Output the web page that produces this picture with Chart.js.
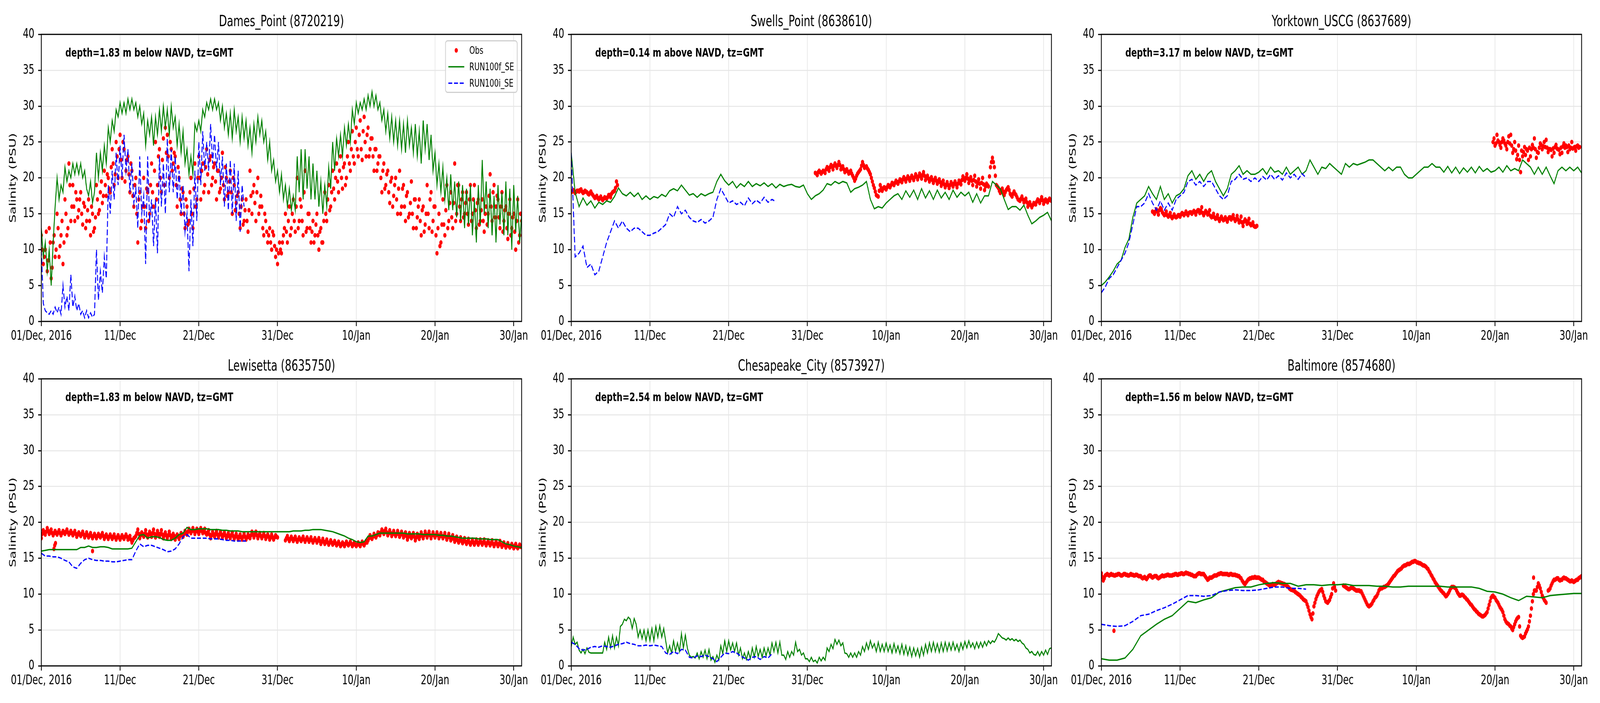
<!DOCTYPE html>
<html>
<head>
<meta charset="utf-8">
<script src="https://cdn.jsdelivr.net/npm/chart.js@4.4.1/dist/chart.umd.min.js"></script>
<style>
  html, body { margin: 0; background: #fff; overflow: hidden; }
  #wrap { position: relative; overflow: hidden; background: #fff; }
  #fig { position: absolute; left: 0; top: 0; width: 6000px; height: 1800px; background: #fff; overflow: hidden; transform-origin: 0 0; }
  #fig canvas { position: absolute; }
  .legend { position: absolute; background: rgba(255,255,255,0.85); border: 3px solid #d0d0d0; border-radius: 9px;
            font-family: "DejaVu Sans", sans-serif; font-size: 27px; color: #000; box-sizing: border-box; }
  .legend .row { position: absolute; left: 0; height: 40px; }
  .legend svg { position: absolute; left: 9px; top: 0; }
  .legend span { position: absolute; left: 88px; white-space: nowrap; line-height: 40px; }
</style>
</head>
<body>
<div id="wrap"><div id="fig"></div></div>
<script>
// x is days since 01/Dec/2016 00:00 GMT
const TICK_DAYS = [0, 10, 20, 30, 40, 50, 60];
const TICK_LABELS = ['01/Dec, 2016', '11/Dec', '21/Dec', '31/Dec', '10/Jan', '20/Jan', '30/Jan'];
const STATIONS = ['Dames_Point (8720219)', 'Swells_Point (8638610)', 'Yorktown_USCG (8637689)',
                  'Lewisetta (8635750)', 'Chesapeake_City (8573927)', 'Baltimore (8574680)'];
const DEPTHS = ['depth=1.83 m below NAVD, tz=GMT', 'depth=0.14 m above NAVD, tz=GMT', 'depth=3.17 m below NAVD, tz=GMT',
                'depth=1.83 m below NAVD, tz=GMT', 'depth=2.54 m below NAVD, tz=GMT', 'depth=1.56 m below NAVD, tz=GMT'];
const LEGEND_LABELS = ['Obs', 'RUN100f_SE', 'RUN100i_SE'];

// sampling steps (days) of the series
const Q = 0.25, H = 0.5, D = 1;

// ---- Dames_Point ----
const DAMES_OBS = [
  12,8,10,7, 13,6,11,9, 15,9,12,8, 17,12,22,14, 19,14,17,15.5, 18,13.5,16,14, 17,12,15,13, 19,15,18,16.5,
  21,17.5,20,18, 24,19,25,20, 26,20,24,21, 23,18,21,16, 20,11,18,14, 20,13,18,15, 22,16,25,19, 24,18,25.5,27,
  26,20,24,22, 23,16,20,15, 18,13,16,14, 20,13,22,17, 23,17,22,19, 24,18,23,20, 22,17,21,18.5, 23.5,17,20,18,
  21,15,19,16.5, 18,13,17,14, 17,12.5,21,15, 19,14,20,16, 16,12,14,11, 13,10,12,9, 8,11,9.5,12, 15,11,16,13,
  17,12.5,20,14, 16,12,21,13, 15,11,14,12, 15,10,13,11, 18,14,19,16, 21,17,22,18, 23,18.5,22,20, 25,21,26.5,22,
  27,23,28,22.5, 28.5,23,27,24, 25.5,21,24,22, 23,18,22,19, 21,16.5,20,17.5, 20,15,21,16, 19,14,18,15, 19.5,13,17,14.5,
  17,12,16,13.5, 19,13,18,14, 16,9.5,15,11, 17,12,19,14, 18,13,22,15, 19,14,18,15, 18,13.5,19,15, 19,13,17,14,
  17,12.5,16,15, 20.5,14,19,16, 17,13,18,14, 16,11.5,17,13, 15,10,17,12, 14];
const DAMES_OBS_MID = [
  10,9,12.5,8.5, 11,7.5,12,10, 13,10.5,14,11, 15,13,19,16, 16,18,14.5,17, 15,16.5,13,15.5, 14,16,12.5,14.5,
  17,15.5,19.5,17.5, 19,20.5,18.5,21.5, 22,20.5,23,24, 22.5,25,19.5,22.5, 20.5,22,17.5,19, 15,17,13,16,
  16,18.5,14,19, 18,21,17,23, 20,22.5,19,23.5, 23,25,21,23.5, 19,21.5,17,18.5, 15,17,13.5,18, 15,18.5,16,20,
  20,21,18,21.5, 20.5,22.5,19,21.5, 19.5,21,18,20, 19,21.5,17.5,19.5, 18,20,15.5,17.5, 15,16,13.5,15.5,
  14,15.5,17.5,18, 16.5,18,15,17.5, 13,15,12.5,12, 11,12.5,10.5,10, 9.5,10,11,13, 12.5,14,12,15, 14,16,13,17,
  14,18,12.5,15, 13,12.5,11,13.5, 12,12.5,11,14, 15,17,15.5,18, 18.5,20,19.5,21, 20,21.5,19,23, 22,24,23,25,
  24,26,24,26.5, 25,26,23,25.5, 23,24,21,23, 20,21,18.5,20.5, 18,19.5,16,19, 17,18.5,15,18.5, 16,17.5,14.5,16.5,
  15,17,13,16, 14,15.5,12.5,15, 15,17,12.5,16, 12,13,10.5,13.5, 13.5,15.5,13,16.5, 14.5,16.5,14,19, 16,17,14.5,16.5,
  15,17,14,17, 15.5,16.5,13.5,15.5, 14,15,13.5,17.5, 16,18,14.5,17.5, 14.5,16,12.5,15.5, 13,15,12,14.5, 12.5,14,11,15];
const DAMES_F = [
  13,9,11,7, 10,5,11,16, 20,17,19,18, 21.5,19.5,21,20, 22,20.5,22,20.5, 22,20,21,18.5, 17.5,19.5,16.5,18,
  23.5,20,23.5,21, 24.5,22,27,25, 28,26.5,29.5,28.5, 30.5,29,30.5,29, 31,29.5,31,29.5, 30.5,28.5,30,27.5,
  29,24.5,28,26, 28.5,24.5,28.5,26, 29.5,26.5,30,27, 29.5,26,30,27, 28.5,24.5,27.5,23.5, 26.5,22,24,20.5,
  23,20.5,27.5,26.5, 28,26.5,29.5,28.5, 30.5,29.5,31,29.5, 31,29.5,30.5,28, 30,27,29,26, 29,25.5,29.5,26.5,
  28.5,25,28.5,25.5, 28,24.5,27,23.5, 27.5,25,28.5,26, 28,25,26.5,22.5, 25,21,22.5,19.5, 21,18,20.5,17,
  19,16,18.5,15.5, 17.5,15.5,23,18, 24,17,24,18.5, 23,17,22,17, 21,16,19.5,15, 19,16,21.5,18.5, 25,21,25.5,23,
  26,23,27,24.5, 27.5,25,29.5,27.5, 30.5,29,30.5,29.5, 31,29.5,31.5,30, 32,30,31.5,29.5, 30.5,28,29.5,26.5,
  29,25.5,28.5,25, 28,24.5,28,24, 27.5,23.5,28,24.5, 27,23.5,27.5,23, 26.5,22,28,24, 27.5,22.5,26,21,
  23.5,19,22,18, 21.5,17,20,15.5, 20.5,15.5,19.5,14.5, 19.5,14,19,13, 18.5,13.5,19,12, 17,11,19,13.5,
  22.5,15,19.5,13, 18.5,12,17.5,11, 19,13.5,18,12, 19.5,12,18.5,10, 19,12.5,17.5,11, 15];
const DAMES_I = [
  10,2.5,1.5,1.2, 1,1.5,1,2, 1.2,2,1,5, 2,3.5,1.5,6.5, 2,3.5,1.5,2.5, 1,1.5,0.5,1.5, 0.5,1.2,0.6,1,
  10,3,7,4, 9,6,19,15, 21,17,23.5,19, 24.5,20,26,21, 24,18,22,16.5, 18.5,13,23,15, 17.5,8,23,14,
  17,10.5,17,9.5, 23,16,22,15, 25.5,18,24,18, 23,17,21,15, 19,12.5,15,7, 17,10.5,21,14, 25,19,26.5,21,
  25,21,27.5,22, 26,21,25,19, 23,16,22,15.5, 22.5,15,22,14, 21,12.5,19,16];

// ---- Swells_Point ----
const SWELLS_OBS_A = [18,18.3,17.9,18.2, 18.1,18.4,17.9,18.2, 18,17.7,18.1,17.6, 17.2,17.5,17,17.4,
  16.9,17.3,17.1,17.6, 17.3,18,18.2,19.5];
const SWELLS_OBS_A_MID = [18.1,18.1,18.05,18.2, 18.3,18.1,18,18.1, 17.8,17.9,17.8,17.4, 17.3,17.2,17.2,17.1,
  17.1,17.2,17.3,17.6, 17.8,18.1,18.6,19];
const SWELLS_OBS_B = [
  20.7,20.4,21,20.6, 21,20.7,21.5,21, 21.8,21.2,22,21.4, 22.2,21.2,21.6,20.8, 21.2,20.6,21,20.3,
  19.6,20.3,20.8,21.2, 22.2,21.4,21.6,21.1, 20.5,19.5,18.6,17.6, 17.4,19,18.2,18.7, 18.4,19,18.7,19.3,
  19,19.6,19.2,19.8, 19.4,20.1,19.5,20.2, 19.6,20.3,19.7,20.5, 19.8,20.6,19.9,20.8, 19.7,20.3,19.5,20.1,
  19.3,20,19.2,19.8, 18.9,19.6,18.7,19.4, 18.6,19.4,18.8,19.5, 18.7,19.6,19.1,20.2, 19.6,20.5,19.3,20.1,
  19,20.3,18.8,19.8, 18.5,20,18.3,19.2, 18.8,21.5,22.8,21.5, 19,18.6,17.9,18.5, 17.6,18.3,18.7,17.8,
  17.4,18.1,17.6,17, 16.8,17.4,16.6,17.1, 16,16.6,15.9,16.5, 16.3,17,16.5,17.3, 16.4,17,16.6,17.1, 16.8];
const SWELLS_OBS_B_MID = [
  20.6,20.8,20.8,20.8, 20.9,21.2,21.3,21.5, 21.6,21.7,21.7,21.8, 21.8,21.4,21.2,21, 20.9,20.8,20.6,20,
  19.9,20.6,21,21.7, 21.8,21.5,21.3,20.8, 20,19,18.1,17.5, 18.2,18.6,18.5,18.6, 18.7,18.9,19,19.2,
  19.3,19.4,19.5,19.6, 19.8,19.8,19.9,19.9, 20,20,20.1,20.2, 20.2,20.3,20.4,20.3, 20,19.9,19.8,19.7,
  19.7,19.6,19.5,19.4, 19.3,19.1,19,19, 19,19.1,19.2,19.1, 19.2,19.4,19.7,19.9, 20,19.9,19.7,19.6,
  19.7,19.5,19.3,19.2, 19.3,19.1,18.8,19, 20.2,22.2,22.2,20.3, 18.8,18.2,18.2,18.1, 18,18.5,18.3,17.6,
  17.8,17.8,17.3,16.9, 17.1,17,16.9,16.6, 16.3,16.2,16.2,16.4, 16.7,16.8,16.9,16.9, 16.7,16.8,16.9,16.9];
const SWELLS_F = [
  23.5,18, 16,17.2, 16.2,16.8, 15.8,16.6, 16.3,16.8, 16.6,17.4, 18.6,17.8, 17.5,18, 17.4,17.9, 17,17.5,
  17,17.4, 17.2,17.7, 17.4,18.2, 18.5,18.2, 19,18.3, 17.6,17.8, 17.3,17.8, 17.5,17.8, 18,19.5, 20.5,19.6,
  19,19.5, 18.6,19.2, 18.8,19.5, 18.8,19.2, 18.9,19.3, 18.8,19.2, 18.6,19.1, 18.8,19, 19.1,18.8, 18.7,19,
  17.8,17, 17.5,17.8, 18.3,19.2, 19,19.5, 19.2,19.5, 19.3,18, 18.5,18.7, 19,19.5, 17,15.7, 16,15.8,
  16.5,17, 17.5,17.8, 17,18.2, 17.3,18.3, 17,18.5, 17.2,18.2, 17,18.3, 17.2,18, 17,18.3, 17.3,18,
  17.5,18, 16.6,17.8, 16.5,17.5, 17.5,19.5, 19,18.5, 17,15.6, 16,16, 15.5,16.2, 14.8,13.6, 14,14.5,
  14.8,15.2, 14];
const SWELLS_I = [
  23.5,9, 9.5,10.5, 7.5,8, 6.5,7, 9,11, 12.5,14, 13,14, 13,12.5, 13,13, 12.5,12, 12,12.3, 12.5,13,
  13.5,15, 14.5,16, 15,15.5, 14.5,14, 13.8,14.2, 13.7,14, 14.5,17, 18.5,17.5, 16.5,16.8, 16.3,16.6,
  16.1,17.2, 16.4,16.9, 16.5,17.3, 16.6,17, 16.7];

// ---- Yorktown_USCG ----
const YORK_OBS_A = [15.3,15, 15.6,14.9,15.8,15.2, 14.8,15.3,14.6,15.1, 14.4,14.9,14.5,14.8, 14.6,15.1,14.8,15.3,
  14.8,15.2,15,15.4, 14.9,15.5,15.1,15.9, 14.8,15.4,14.9,15.5, 14.5,15,14.3,14.8, 14,14.6,14.1,14.5,
  13.9,14.5,14.2,14.8, 14,14.7,13.8,14.6, 13.3,14.2,13.6,14.3, 13.4,13.8,13.2,13.3];
const YORK_OBS_A_MID = [15.2, 15.3,15.3,15.5,15.6, 15,14.9,14.8,14.8, 14.6,14.6,14.6,14.6, 14.8,14.9,15,15,
  15,15.1,15.2,15.2, 15.2,15.3,15.5,15.4, 15.1,15.1,15.2,15.1, 14.7,14.6,14.5,14.4, 14.3,14.3,14.3,14.2,
  14.2,14.3,14.5,14.5, 14.3,14.2,14.2,14, 13.8,13.9,14,13.9, 13.6,13.5,13.3,13.2];
const YORK_OBS_B = [25, 24.5,26,25,24.2, 25.5,24.8,24,25.8, 26,23.5,25,22.6, 24.5,20.8,23,24.3, 24,22.5,23,24.6,
  25.5,22.8,23.5,24.8, 24,25,25.3,23.6, 24,23,23.5,24.6, 24,23.3,23.5,24.8, 24.5,23.6,24,25, 24.2,23.8,24.5,24.3];
const YORK_OBS_B_MID = [25.5,24.8,25.2,24.6, 25,25.2,24.5,25, 24.8,24.5,24,23.8, 23.2,22.5,23.8,23.6,
  23.2,23.8,24.2,24, 24.2,24,23.6,24.2, 24.6,24.4,24.3,24.2, 24,23.9,24.1,24.3, 24.1,23.9,24.2,24.4,
  24.2,24.3,24.5,24.2, 24.1,24.3,24.4,24.2];
const YORK_F = [
  5,5.5, 6.2,7, 8,8.5, 10.3,11.5, 14.5,16.5, 17,17.5, 18.8,17.8, 17,18.8, 17,17.8, 16.5,17.5, 17.8,18.5,
  20.3,21, 19.8,20.5, 19.5,20.5, 21,19.5, 18.5,17.5, 18.5,20.5, 21,21.7, 20.5,21, 20.5,20.5, 20.8,21.3,
  20.5,21.5, 20.8,21, 20.5,21.5, 20.5,21, 21.5,20.5, 21,22.5, 21.5,20.5, 21.5,21.3, 22,21.5, 21,20.5,
  22,21.5, 22,21.8, 22,22.2, 22.5,22.5, 22,21.5, 21,21.5, 21,21.5, 21.5,20.5, 20,20, 20.5,21, 21.5,21.5,
  22,21.5, 21.5,20.8, 21.6,20.7, 21.5,20.6, 21.4,20.8, 21.5,20.7, 21.6,20.9, 21.3,20.8, 21,21.5, 20.8,21.7,
  21,21.3, 21,22.5, 22,21.5, 20.5,21.5, 20.5,21.5, 20.3,19.2, 21,21.5, 21,21.5, 21,21.5, 20.7];
const YORK_I = [
  4,4.8, 6,6.5, 7.5,8.5, 9.5,11, 13.5,16, 16,16.5, 17.8,16.5, 15.5,16.8, 15.5,16.5, 15.5,17, 17.5,18,
  19.5,19.8, 19,19.5, 18.8,19.5, 19.5,18.5, 17.5,17, 17.5,19.5, 19.8,20.5, 19.8,20, 19.5,20, 19.5,20.2,
  19.7,20.5, 19.8,20.3, 19.7,20.7, 20,20.5, 19.8,20.6, 20];

// ---- Lewisetta ----
const LEW_OBS_A = [
  17.8,18.9,18.3,19.2, 18.4,19,18.2,18.8, 18.3,18.9,18.2,18.8, 18.4,19,18.3,18.8, 18.2,18.8,18,18.6,
  18.1,18.7,17.9,18.6, 17.9,18.5,17.8,18.4, 17.8,18.4,17.9,18.5, 17.7,18.3,17.7,18.3, 17.7,18.3,17.6,18.2,
  17.6,18.2,17.7,18.3, 17.6,18.1,17.2,17.8, 18.1,19,17.8,18.6, 18,18.9,17.9,18.7, 18,19,17.9,18.8,
  18,18.9,17.8,18.6, 17.8,18.7,17.7,18.4, 17.6,18.3,17.7,18.5, 18,18.8,18.3,19.1, 18.5,19.2,18.4,19.1,
  18.4,19.2,18.5,19.1, 18.3,18.9,17.8,18.7, 18,18.8,17.9,18.7, 17.9,18.6,17.8,18.5, 17.8,18.6,17.7,18.4,
  17.6,18.3,17.6,18.4, 17.6,18.3,17.8,18.7, 17.9,18.7,17.8,18.5, 17.8,18.5,17.7,18.3, 17.6,18.3,17.6,18.2, 17.9];
const LEW_OBS_A_MID = [
  18.4,18.6,18.7,18.8, 18.7,18.5,18.5,18.5, 18.6,18.5,18.5,18.6, 18.7,18.6,18.5,18.5, 18.5,18.4,18.3,18.3,
  18.4,18.3,18.2,18.2, 18.2,18.1,18.1,18.1, 18.1,18.1,18.2,18.1, 18,18,18,18, 18,17.9,17.9,17.9,
  17.9,17.9,18,18, 17.8,17.6,17.5,17.9, 18.5,18.4,18.2,18.3, 18.4,18.3,18.3,18.4, 18.5,18.4,18.3,18.4,
  18.4,18.3,18.2,18.2, 18.2,18.2,18,18.1, 18,18,18.1,18.2, 18.4,18.5,18.7,18.8, 18.8,18.8,18.8,18.7,
  18.8,18.8,18.8,18.5, 18.6,18.3,18.2,18.3, 18.4,18.3,18.3,18.3, 18.2,18.2,18.1,18.1, 18.2,18.1,18,18,
  18,17.9,18,18, 17.9,18,18.2,18.3, 18.3,18.2,18.2,18.1, 18.1,18.1,18,18, 17.9,17.9,17.9,18];
const LEW_OBS_B = [
  17.5,18.1,17.4,18, 17.4,18,17.3,17.9, 17.4,18,17.3,17.9, 17.3,17.9,17.2,17.8, 17.2,17.8,17,17.7,
  17,17.6,16.9,17.5, 16.9,17.4,16.8,17.3, 16.7,17.2,16.7,17.3, 16.8,17.3,16.7,17.2, 16.7,17.2,16.7,17.3,
  16.8,17.4,17.5,18.2, 17.7,18.4,17.9,18.6, 18.2,19,18.4,19.1, 18.2,18.9,18.1,18.8, 18.1,18.8,18,18.7,
  17.9,18.6,17.6,18.5, 17.8,18.5,17.5,18.4, 17.7,18.6,17.8,18.7, 17.9,18.7,17.8,18.6, 17.9,18.6,17.8,18.5,
  17.8,18.5,17.6,18.4, 17.5,18.2,17.3,18, 17.2,17.9,17.1,17.8, 17,17.7,16.9,17.6, 16.9,17.6,16.9,17.6,
  16.9,17.6,16.8,17.5, 16.8,17.5,16.7,17.4, 16.7,17.4,16.6,17.2, 16.5,17.1,16.5,17, 16.4,17,16.4,16.9, 16.6];
const LEW_OBS_B_MID = [
  17.8,17.7,17.7,17.7, 17.7,17.6,17.6,17.6, 17.7,17.6,17.6,17.6, 17.6,17.5,17.5,17.5, 17.5,17.4,17.3,17.3,
  17.3,17.2,17.2,17.2, 17.1,17.1,17,17, 16.9,17,17,17, 17,17,16.9,16.9, 16.9,16.9,17,17,
  17.1,17.2,17.8,17.9, 18,18.1,18.2,18.5, 18.6,18.7,18.8,18.6, 18.5,18.5,18.4,18.4, 18.4,18.4,18.3,18.3,
  18.2,18.1,18,18.1, 18.1,18,17.9,18.1, 18.1,18.2,18.2,18.3, 18.3,18.2,18.2,18.2, 18.2,18.2,18.1,18.1,
  18.1,18,18,17.9, 17.8,17.7,17.6,17.5, 17.5,17.4,17.4,17.3, 17.3,17.2,17.2,17.2, 17.2,17.2,17.2,17.2,
  17.2,17.1,17.1,17.1, 17.1,17,17,17, 17,16.9,16.9,16.8, 16.8,16.7,16.7,16.7, 16.7,16.6,16.6,16.6];
const LEW_OBS_OUT_DAYS = [1.6, 1.7, 1.8, 6.5];
const LEW_OBS_OUT = [16.3, 16.8, 17.1, 16.0];
const LEW_F = [
  16,16.1, 16.2,16.2, 16.2,16.2, 16.2,16.2, 16.2,16.2, 16.5,16.5, 16.7,16.5, 16.5,16.6, 16.6,16.5, 16.3,16.3,
  16.3,16.3, 16.3,16.4, 17.3,18.2, 18.3,17.8, 18,18, 17.9,17.6, 17.5,17.5, 17.8,18.3, 18.5,19.3, 19,19,
  19.1,19.1, 19.1,19, 19,19, 18.9,18.9, 18.8,18.8, 18.8,18.7, 18.7,18.7, 18.7,18.7, 18.7,18.7, 18.7,18.7,
  18.7,18.7, 18.7,18.7, 18.8,18.8, 18.8,18.9, 18.9,19, 19,19, 18.9,18.8, 18.7,18.5, 18.3,18.1, 17.8,17.6,
  17.3,17.2, 17.3,18.1, 18.1,18.3, 18.5,18.5, 18.5,18.5, 18.5,18.5, 18.5,18.4, 18.4,18.4, 18.4,18.3, 18.3,18.3,
  18.3,18.2, 18.2,18.1, 18.1,18, 17.9,17.8, 17.8,17.8, 17.8,17.7, 17.7,17.7, 17.6,17.6, 17.6,17.3, 17,16.9,
  16.7,16.6, 16.5];
const LEW_I = [
  15.7,15.3, 15.3,15.2, 15.2,15, 14.7,14.5, 13.8,13.6, 14.3,14.8, 15,14.8, 14.7,14.7, 14.6,14.6, 14.5,14.5,
  14.6,14.7, 14.8,14.8, 16,17, 16.6,16.8, 16.8,16.6, 16.4,16.2, 15.9,16, 16.3,17, 18,18.3, 17.8,17.8,
  17.8,17.8, 17.8,17.7, 17.7,17.7, 17.6,17.5, 17.5,17.4, 17.4,17.4, 17.4];

// ---- Chesapeake_City ----
const CHES_F = [
  2.7,4,3,3.3, 2.2,1.8,2.3,1.7, 2.5,1.9,1.8,1.8, 1.8,1.8,1.8,1.8, 1.8,3.3,2.3,4, 2.5,4.2,2.5,4, 2.8,5.5,5.8,6.5,
  6.3,6.8,6.5,5.2, 6.6,5.8,4,5, 3.8,5,3.5,5, 3.5,5.2,3.5,5.5, 4,5.6,4,5.2, 3.5,1.8,2.8,1.8, 3.5,2,3.2,2,
  4.5,2.5,4.3,2.5, 1.5,1.2,1.3,1.1, 1.8,1,2,1.2, 2.2,1,2.3,0.8, 1.3,0.5,1.5,0.8, 2.8,1.7,3.5,2, 3.5,2.2,3.2,2,
  3.2,1.5,2.5,1, 1.8,0.9,2,1, 2.5,1.2,2.7,1.3, 2.3,1.2,2.5,1.4, 2.5,1.5,3.2,2, 3.3,1.8,3.3,1.5, 1.5,0.9,2,1.2,
  2,1.5,3.3,2, 2.3,1.5,1.8,1, 1,0.6,1.2,0.6, 0.8,0.4,1.2,0.7, 1.2,0.8,2.5,2, 3,2.4,3.7,3, 3.6,2.8,3.2,1.8,
  1.7,1.2,1.8,1.2, 1.8,1.2,2,1.5, 2.7,2,3.2,2.3, 3.5,2.5,3.1,2, 3.3,2,3,2, 3.2,2,2.9,1.8, 3.1,1.9,2.8,1.7,
  3,1.6,2.8,1.5, 2.6,1.3,2.5,1.4, 2.4,1.2,2.6,1.5, 3,1.8,3.2,2, 3.3,2,3.1,1.9, 3.2,2,3.3,2.1, 3.2,2.2,3.3,2.2,
  3,2,3.2,2.3, 3.4,2.5,3.5,2.6, 3.2,2.4,3.3,2.5, 3.3,2.6,3.4,2.8, 3.5,3.1,3.5,3.3, 3.8,4.5,4.2,3.9, 3.8,3.6,3.9,3.6,
  3.8,3.5,3.7,3.4, 3.6,3.2,3,2.5, 2.3,1.8,2,1.6, 1.5,2,1.4,2, 1.5,2.2,1.6,2.4, 2.5];
const CHES_I = [
  3.3,3, 2.4,2.2, 2.3,2.6, 2.7,2.6, 2.8,2.7, 2.6,2.8, 3,3.1, 3.3,3.1, 3,2.8, 2.8,2.9, 2.8,2.9, 2.8,2.7,
  1.8,1.6, 2,1.7, 2.3,2.2, 1.2,1.1, 1.4,1.3, 1.5,1.3, 1,0.6, 1.2,1.8, 1.7,2, 1.8,1.4, 1.1,0.8, 1.2,1.3,
  0.9,1.3, 1.1,1.7];

// ---- Baltimore ----
const BALT_OBS = [
  12.9,11.9,12.6,12.8, 12.6,12.8,12.7,12.6, 12.7,12.8,12.6,12.7, 12.8,12.7,12.6,12.8, 12.7,12.6,12.7,12.5,
  12.5,12.2,12.4,12.1, 12.5,12.6,12.3,12.5, 12.5,12.2,12.4,12.6, 12.5,12.6,12.7,12.6, 12.6,12.7,12.8,12.7,
  12.8,12.9,12.8,13, 12.9,12.8,12.7,12.5, 12.5,12.8,12.9,12.8, 12.8,12.4,12,12.3, 12.3,12.5,12.6,12.7,
  12.8,12.9,12.8,12.8, 12.8,12.7,12.8,12.7, 12.7,12.6,12.5,12.2, 11.7,11.4,11.8,12.1, 12.2,12.3,12.4,12.3,
  12.3,12.1,12,11.7, 11.5,11.3,11.2,11.4, 11.3,11.5,11.7,11.6, 11.5,11.4,11.2,11, 10.7,10.6,10.5,10.2,
  10,9.8,9.5,9.2, 9,8.2,7.2,6.5, 8.3,9.3,10,10.5, 10.7,9.8,9,8.8, 9.2,10,11.5,10.5, null,null,null,11.2,
  11,10.8,10.7,10.9, 10.8,10.6,10.5,10.5, 10.4,9.8,9.2,8.6, 8.3,8.5,9,9.5, 9.8,10.5,10.8,10.9, 11,11.2,11.5,11.9,
  12.3,12.6,13,13.3, 13.5,13.8,14,14.1, 14.2,14.3,14.5,14.6, 14.5,14.4,14.3,14.1, 14,13.8,13.5,13, 12.5,12,11.5,11.1,
  10.7,10.4,10.1,9.7, 10,10.5,11,11, 10.8,10.2,9.8,9.9, 9.8,9.5,9.2,8.8, 8.5,8.1,7.8,7.5, 7.2,7,6.9,7.1,
  7.5,8.5,9.5,9.8, 9.5,9,8.5,8, 7.5,6.5,6,5.8, 5.5,5,5.8,6.5, 6.8,4.2,3.9,4.1, 4.8,5.5,7,9, 10.5,10.5,11.5,10.8,
  9.8,9.2,8.8,10.5, 10.8,11.5,12,12.1, 12.2,11.9,12,12.3, 12.2,12,11.8,11.9, 11.7,11.9,12,12.3, 12.5];
const BALT_OBS_MID = [
  12.4,12.2,12.7,12.7, 12.7,12.7,12.6,12.7, 12.8,12.7,12.6,12.8, 12.7,12.6,12.7,12.7, 12.6,12.7,12.6,12.5,
  12.3,12.3,12.2,12.3, 12.6,12.4,12.4,12.5, 12.3,12.3,12.5,12.5, 12.6,12.7,12.6,12.6, 12.7,12.8,12.7,12.8,
  12.9,12.8,12.9,12.9, 12.8,12.7,12.6,12.5, 12.7,12.9,12.8,12.8, 12.6,12.2,12.1,12.3, 12.4,12.6,12.6,12.8,
  12.9,12.8,12.8,12.8, 12.7,12.8,12.7,12.7, 12.6,12.5,12.3,11.9, 11.5,11.6,12,12.2, 12.3,12.3,12.3,12.3,
  12.2,12,11.8,11.6, 11.4,11.2,11.3,11.3, 11.4,11.6,11.6,11.5, 11.4,11.3,11.1,10.8, 10.6,10.5,10.3,10.1,
  9.9,9.6,9.3,9.1, 8.6,7.7,6.8,7.3, 8.8,9.7,10.3,10.6, 10.3,9.4,8.9,9, 9.6,10.8,11,null, null,null,null,11.1,
  10.9,10.7,10.8,10.9, 10.7,10.5,10.5,10.4, 10.1,9.5,8.9,8.4, 8.4,8.7,9.2,9.6, 10.1,10.7,10.8,11, 11.1,11.3,11.7,12.1,
  12.5,12.8,13.2,13.4, 13.6,13.9,14,14.2, 14.2,14.4,14.5,14.6, 14.4,14.3,14.2,14, 13.9,13.6,13.2,12.7, 12.2,11.7,11.3,10.9,
  10.5,10.2,9.9,9.8, 10.2,10.8,11,10.9, 10.5,10,9.8,9.9, 9.6,9.3,9,8.6, 8.3,7.9,7.6,7.3, 7.1,6.9,7,7.3,
  8,9,9.7,9.6, 9.2,8.8,8.2,7.8, 7,6.2,5.9,5.6, 5.2,5.4,6.2,6.7, 5.5,4,4,4.5, 5.1,6.2,8,10, 10.5,11,11.2,10.3,
  9.5,9,null,10.6, 11.2,11.8,12,12.2, 12,12,12.2,12.2, 12.1,11.9,11.8,11.8, 11.8,12,12.2,12.4];
const BALT_OBS_OUT_DAYS = [1.6, 54.9];
const BALT_OBS_OUT = [4.9, 12.3];
const BALT_F = [1, 0.8, 0.8, 1.1, 2.3, 4.2, 5, 5.8, 6.5, 7, 8, 9, 8.8, 9.2, 9.5, 10.3, 10.6, 10.9, 11, 11,
  11.3, 11.5, 11.6, 11.5, 11.5, 11.1, 11.3, 11.3, 11.2, 11.3, 11.3, 11.4, 11.2, 11.2, 11.2, 11.1, 11.1, 11, 11, 11.1,
  11.1, 11.1, 11.1, 11.1, 11, 11, 11, 11, 10.8, 10.4, 10.3, 10, 9.5, 9.1, 9.7, 9.6, 9.5, 9.8, 9.9, 10, 10.1, 10.1];
const BALT_I = [5.8, 5.6, 5.5, 5.6, 6.2, 7, 7.2, 7.7, 8.1, 8.6, 9.2, 9.8, 9.8, 9.7, 9.8, 10.3, 10.5, 10.6, 10.5,
  10.5, 10.6, 10.8, 11, 11, 10.8, 10.8, 10.7];

// ---- helpers ----
function seq(start, step, values) { return values.map((v, k) => ({ x: start + k * step, y: v })); }
function pts(days, values) { return values.map((v, k) => ({ x: days[k], y: v })); }

const PANELS = [
  { obs: [seq(0, Q, DAMES_OBS), seq(0.125, Q, DAMES_OBS_MID)],
    f: seq(0, Q, DAMES_F), i: seq(0, Q, DAMES_I) },
  { obs: [seq(0, Q, SWELLS_OBS_A), seq(0.125, Q, SWELLS_OBS_A_MID), seq(31, Q, SWELLS_OBS_B), seq(31.125, Q, SWELLS_OBS_B_MID)],
    f: seq(0, H, SWELLS_F), i: seq(0, H, SWELLS_I) },
  { obs: [seq(6.5, Q, YORK_OBS_A), seq(6.625, Q, YORK_OBS_A_MID), seq(49.75, Q, YORK_OBS_B), seq(49.875, Q, YORK_OBS_B_MID)],
    f: seq(0, H, YORK_F), i: seq(0, H, YORK_I) },
  { obs: [seq(0, Q, LEW_OBS_A), seq(0.125, Q, LEW_OBS_A_MID), seq(31, Q, LEW_OBS_B), seq(31.125, Q, LEW_OBS_B_MID),
          pts(LEW_OBS_OUT_DAYS, LEW_OBS_OUT)],
    f: seq(0, H, LEW_F), i: seq(0, H, LEW_I) },
  { obs: [], f: seq(0, Q, CHES_F), i: seq(0, H, CHES_I) },
  { obs: [seq(0, Q, BALT_OBS), seq(0.125, Q, BALT_OBS_MID), pts(BALT_OBS_OUT_DAYS, BALT_OBS_OUT)],
    f: seq(0, D, BALT_F), i: seq(0, D, BALT_I) },
];

// ---- layout (px of the 6000x1800 figure) ----
const FIG_W = 6000, FIG_H = 1800;
const PLOT_LEFT = [155, 2142, 4130];
const PLOT_TOP = [88, 970];
const PLOT_W = 1801, PLOT_H = 735;
const Y_AXIS_W = 155, TITLE_H = 88, X_AXIS_H = 90, RIGHT_PAD = 40;

const OBS_COLOR = '#ff0000', F_COLOR = '#008000', I_COLOR = '#0000ff';
const LINE_W = 3.5, DASH = [15, 6.5], DOT_R = 6;

Chart.defaults.font.family = '"DejaVu Sans", sans-serif';
Chart.defaults.color = '#000';

const frame = {
  id: 'frame',
  afterDatasetsDraw(chart, args, opts) {
    const { ctx, chartArea: a } = chart;
    ctx.save();
    ctx.font = 'bold 31px "DejaVu Sans", sans-serif';
    ctx.fillStyle = '#000';
    ctx.textBaseline = 'middle';
    ctx.textAlign = 'left';
    ctx.fillText(opts.text, a.left + 0.05 * (a.right - a.left), a.top + 49);
    ctx.strokeStyle = '#000';
    ctx.lineWidth = 3;
    ctx.strokeRect(a.left, a.top, a.right - a.left, a.bottom - a.top);
    ctx.restore();
  }
};

const wrap = document.getElementById('wrap');
const fig = document.getElementById('fig');
// the figure is laid out in 6000x1800 px; stretch it onto the real window if that is smaller
const SX = Math.min(1, window.innerWidth / FIG_W) || 1;
const SY = Math.min(1, window.innerHeight / FIG_H) || 1;
fig.style.transform = `scale(${SX}, ${SY})`;
wrap.style.width = (FIG_W * SX) + 'px';
wrap.style.height = (FIG_H * SY) + 'px';

const tickText = {};
TICK_DAYS.forEach((d, k) => { tickText[d] = TICK_LABELS[k]; });

PANELS.forEach((p, n) => {
  const col = n % 3, row = Math.floor(n / 3);
  const cw = Y_AXIS_W + PLOT_W + RIGHT_PAD, chh = TITLE_H + PLOT_H + X_AXIS_H;
  const canvas = document.createElement('canvas');
  canvas.width = cw; canvas.height = chh;
  canvas.style.width = cw + 'px'; canvas.style.height = chh + 'px';
  canvas.style.left = (PLOT_LEFT[col] - Y_AXIS_W) + 'px';
  canvas.style.top = (PLOT_TOP[row] - TITLE_H) + 'px';
  fig.appendChild(canvas);

  const datasets = [];
  p.obs.forEach(seg => datasets.push({
    label: LEGEND_LABELS[0], data: seg, showLine: false, pointRadius: DOT_R, pointStyle: 'circle',
    backgroundColor: OBS_COLOR, pointBackgroundColor: OBS_COLOR, pointBorderWidth: 0, order: 3
  }));
  datasets.push({ label: LEGEND_LABELS[1], data: p.f, showLine: true, pointRadius: 0,
    borderColor: F_COLOR, borderWidth: LINE_W, order: 2 });
  datasets.push({ label: LEGEND_LABELS[2], data: p.i, showLine: true, pointRadius: 0,
    borderColor: I_COLOR, borderWidth: LINE_W, borderDash: DASH, order: 1 });

  new Chart(canvas, {
    type: 'scatter',
    data: { datasets },
    options: {
      responsive: false,
      devicePixelRatio: 1,
      animation: false,
      events: [],
      layout: { padding: { left: 0, right: RIGHT_PAD, top: 0, bottom: 0 } },
      plugins: {
        legend: { display: false },
        tooltip: { enabled: false },
        title: { display: true, text: STATIONS[n], fullSize: false,
                 font: { size: 39, weight: 'normal', lineHeight: 1.2 }, color: '#000',
                 padding: { top: 33, bottom: 8.2 } },
        frame: { text: DEPTHS[n] }
      },
      scales: {
        x: {
          type: 'linear', min: 0, max: 61,
          afterBuildTicks: s => { s.ticks = TICK_DAYS.map(v => ({ value: v })); },
          afterFit: s => { s.height = X_AXIS_H; },
          ticks: { autoSkip: false, maxRotation: 0, minRotation: 0, padding: 6,
                   font: { size: 34 }, color: '#000', callback: v => tickText[v] },
          grid: { color: '#e6e6e6', lineWidth: 2.5, drawTicks: true, tickLength: 12,
                  tickWidth: 3, tickColor: '#000' },
          border: { display: false }
        },
        y: {
          min: 0, max: 40,
          afterFit: s => { s.width = Y_AXIS_W; },
          ticks: { stepSize: 5, padding: 14, font: { size: 34 }, color: '#000' },
          grid: { color: '#e6e6e6', lineWidth: 2.5, drawTicks: true, tickLength: 12,
                  tickWidth: 3, tickColor: '#000' },
          border: { display: false },
          title: { display: true, text: 'Salinity (PSU)', font: { size: 34 }, color: '#000',
                   padding: { top: 30, bottom: 0 } }
        }
      }
    },
    plugins: [frame]
  });
});

// legend of the first panel, built from the dataset styles
(function () {
  const box = document.createElement('div');
  box.className = 'legend';
  box.style.left = '1669px'; box.style.top = '103px';
  box.style.width = '272px'; box.style.height = '135px';
  const rowsY = [3, 45, 87];
  LEGEND_LABELS.forEach((lab, k) => {
    const row = document.createElement('div');
    row.className = 'row';
    row.style.top = rowsY[k] + 'px';
    let mark;
    if (k === 0) {
      mark = `<svg width="62" height="40"><circle cx="30" cy="20" r="${DOT_R}" fill="${OBS_COLOR}"/></svg>`;
    } else {
      const c = k === 1 ? F_COLOR : I_COLOR;
      const dash = k === 2 ? ` stroke-dasharray="${DASH.join(',')}"` : '';
      mark = `<svg width="62" height="40"><line x1="0" y1="20" x2="60" y2="20" stroke="${c}" stroke-width="${LINE_W}"${dash}/></svg>`;
    }
    row.innerHTML = mark + `<span>${lab}</span>`;
    box.appendChild(row);
  });
  fig.appendChild(box);
})();
</script>
</body>
</html>
